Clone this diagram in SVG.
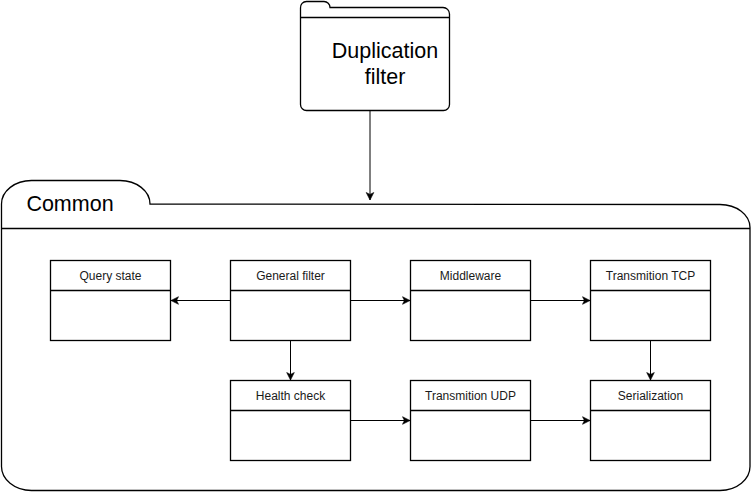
<svg xmlns="http://www.w3.org/2000/svg" width="752" height="492" viewBox="0 0 752 492">
<style>
.sh{fill:#ffffff;stroke:#000000;stroke-width:1.3}
.ln{fill:none;stroke:#000000;stroke-width:1.3}
.edge{fill:none;stroke:#000000;stroke-width:1;marker-end:url(#arr)}
.t12{font-family:"Liberation Sans",Arial,Helvetica,sans-serif;font-size:12px;fill:#1a1a1a;text-anchor:middle}
.t20{font-family:"Liberation Sans",Arial,Helvetica,sans-serif;font-size:21.5px;fill:#000000;text-anchor:middle}
</style>
<defs>
<marker id="arr" markerUnits="userSpaceOnUse" viewBox="-8 -5 9 10" refX="0" refY="0" markerWidth="9" markerHeight="10" orient="auto">
<path d="M0,0 L-7.5,-3.8 L-5.6,0 L-7.5,3.8 Z" fill="#000000" stroke="#000000" stroke-width="0.6"/>
</marker>
</defs>
<rect width="752" height="492" fill="#ffffff"/>
<g id="common">
<path class="sh" d="M1.5,466 L1.5,204 A30,23.5 0 0 1 31.5,180.5 L120,180.5 A30,23.5 0 0 1 150,204 L720,204.5 A30,23 0 0 1 750,227.5 L750,466 A30,24 0 0 1 720,490.5 L31.5,490.5 A30,24 0 0 1 1.5,466 Z"/>
<path class="ln" d="M1.5,228.5 L750,228.5"/>
<text class="t20" x="70" y="211">Common</text>
</g>
<g id="duplication-filter">
<path class="sh" d="M300.5,104.5 L300.5,8 A6,6 0 0 1 306.5,1.5 L324,1.5 A6,6 0 0 1 330,7.5 L443,7.5 A6.5,6.5 0 0 1 449.5,14 L449.5,104.5 A6,6 0 0 1 443.5,110.5 L306.5,110.5 A6,6 0 0 1 300.5,104.5 Z"/>
<path class="ln" d="M300.5,17.5 L449.5,17.5"/>
<text class="t20" x="385" y="58">Duplication</text>
<text class="t20" x="385" y="84">filter</text>
</g>
<g id="query-state">
<rect class="sh" x="50.5" y="260.5" width="120" height="80"/>
<path class="ln" d="M50.5,290.5 L170.5,290.5"/>
<text class="t12" x="110.5" y="279.5">Query state</text>
</g>
<g id="general-filter">
<rect class="sh" x="230.5" y="260.5" width="120" height="80"/>
<path class="ln" d="M230.5,290.5 L350.5,290.5"/>
<text class="t12" x="290.5" y="279.5">General filter</text>
</g>
<g id="middleware">
<rect class="sh" x="410.5" y="260.5" width="120" height="80"/>
<path class="ln" d="M410.5,290.5 L530.5,290.5"/>
<text class="t12" x="470.5" y="279.5">Middleware</text>
</g>
<g id="transmition-tcp">
<rect class="sh" x="590.5" y="260.5" width="120" height="80"/>
<path class="ln" d="M590.5,290.5 L710.5,290.5"/>
<text class="t12" x="650.5" y="279.5">Transmition TCP</text>
</g>
<g id="health-check">
<rect class="sh" x="230.5" y="380.5" width="120" height="80"/>
<path class="ln" d="M230.5,410.5 L350.5,410.5"/>
<text class="t12" x="290.5" y="399.5">Health check</text>
</g>
<g id="transmition-udp">
<rect class="sh" x="410.5" y="380.5" width="120" height="80"/>
<path class="ln" d="M410.5,410.5 L530.5,410.5"/>
<text class="t12" x="470.5" y="399.5">Transmition UDP</text>
</g>
<g id="serialization">
<rect class="sh" x="590.5" y="380.5" width="120" height="80"/>
<path class="ln" d="M590.5,410.5 L710.5,410.5"/>
<text class="t12" x="650.5" y="399.5">Serialization</text>
</g>
<g id="connectors">
<path class="edge" d="M370,111 L370,200"/>
<path class="edge" d="M230.5,300.5 L171,300.5"/>
<path class="edge" d="M350.5,300.5 L410,300.5"/>
<path class="edge" d="M530.5,300.5 L590,300.5"/>
<path class="edge" d="M290.5,340.5 L290.5,380"/>
<path class="edge" d="M650.5,340.5 L650.5,380"/>
<path class="edge" d="M350.5,420.5 L410,420.5"/>
<path class="edge" d="M530.5,420.5 L590,420.5"/>
</g>
</svg>
